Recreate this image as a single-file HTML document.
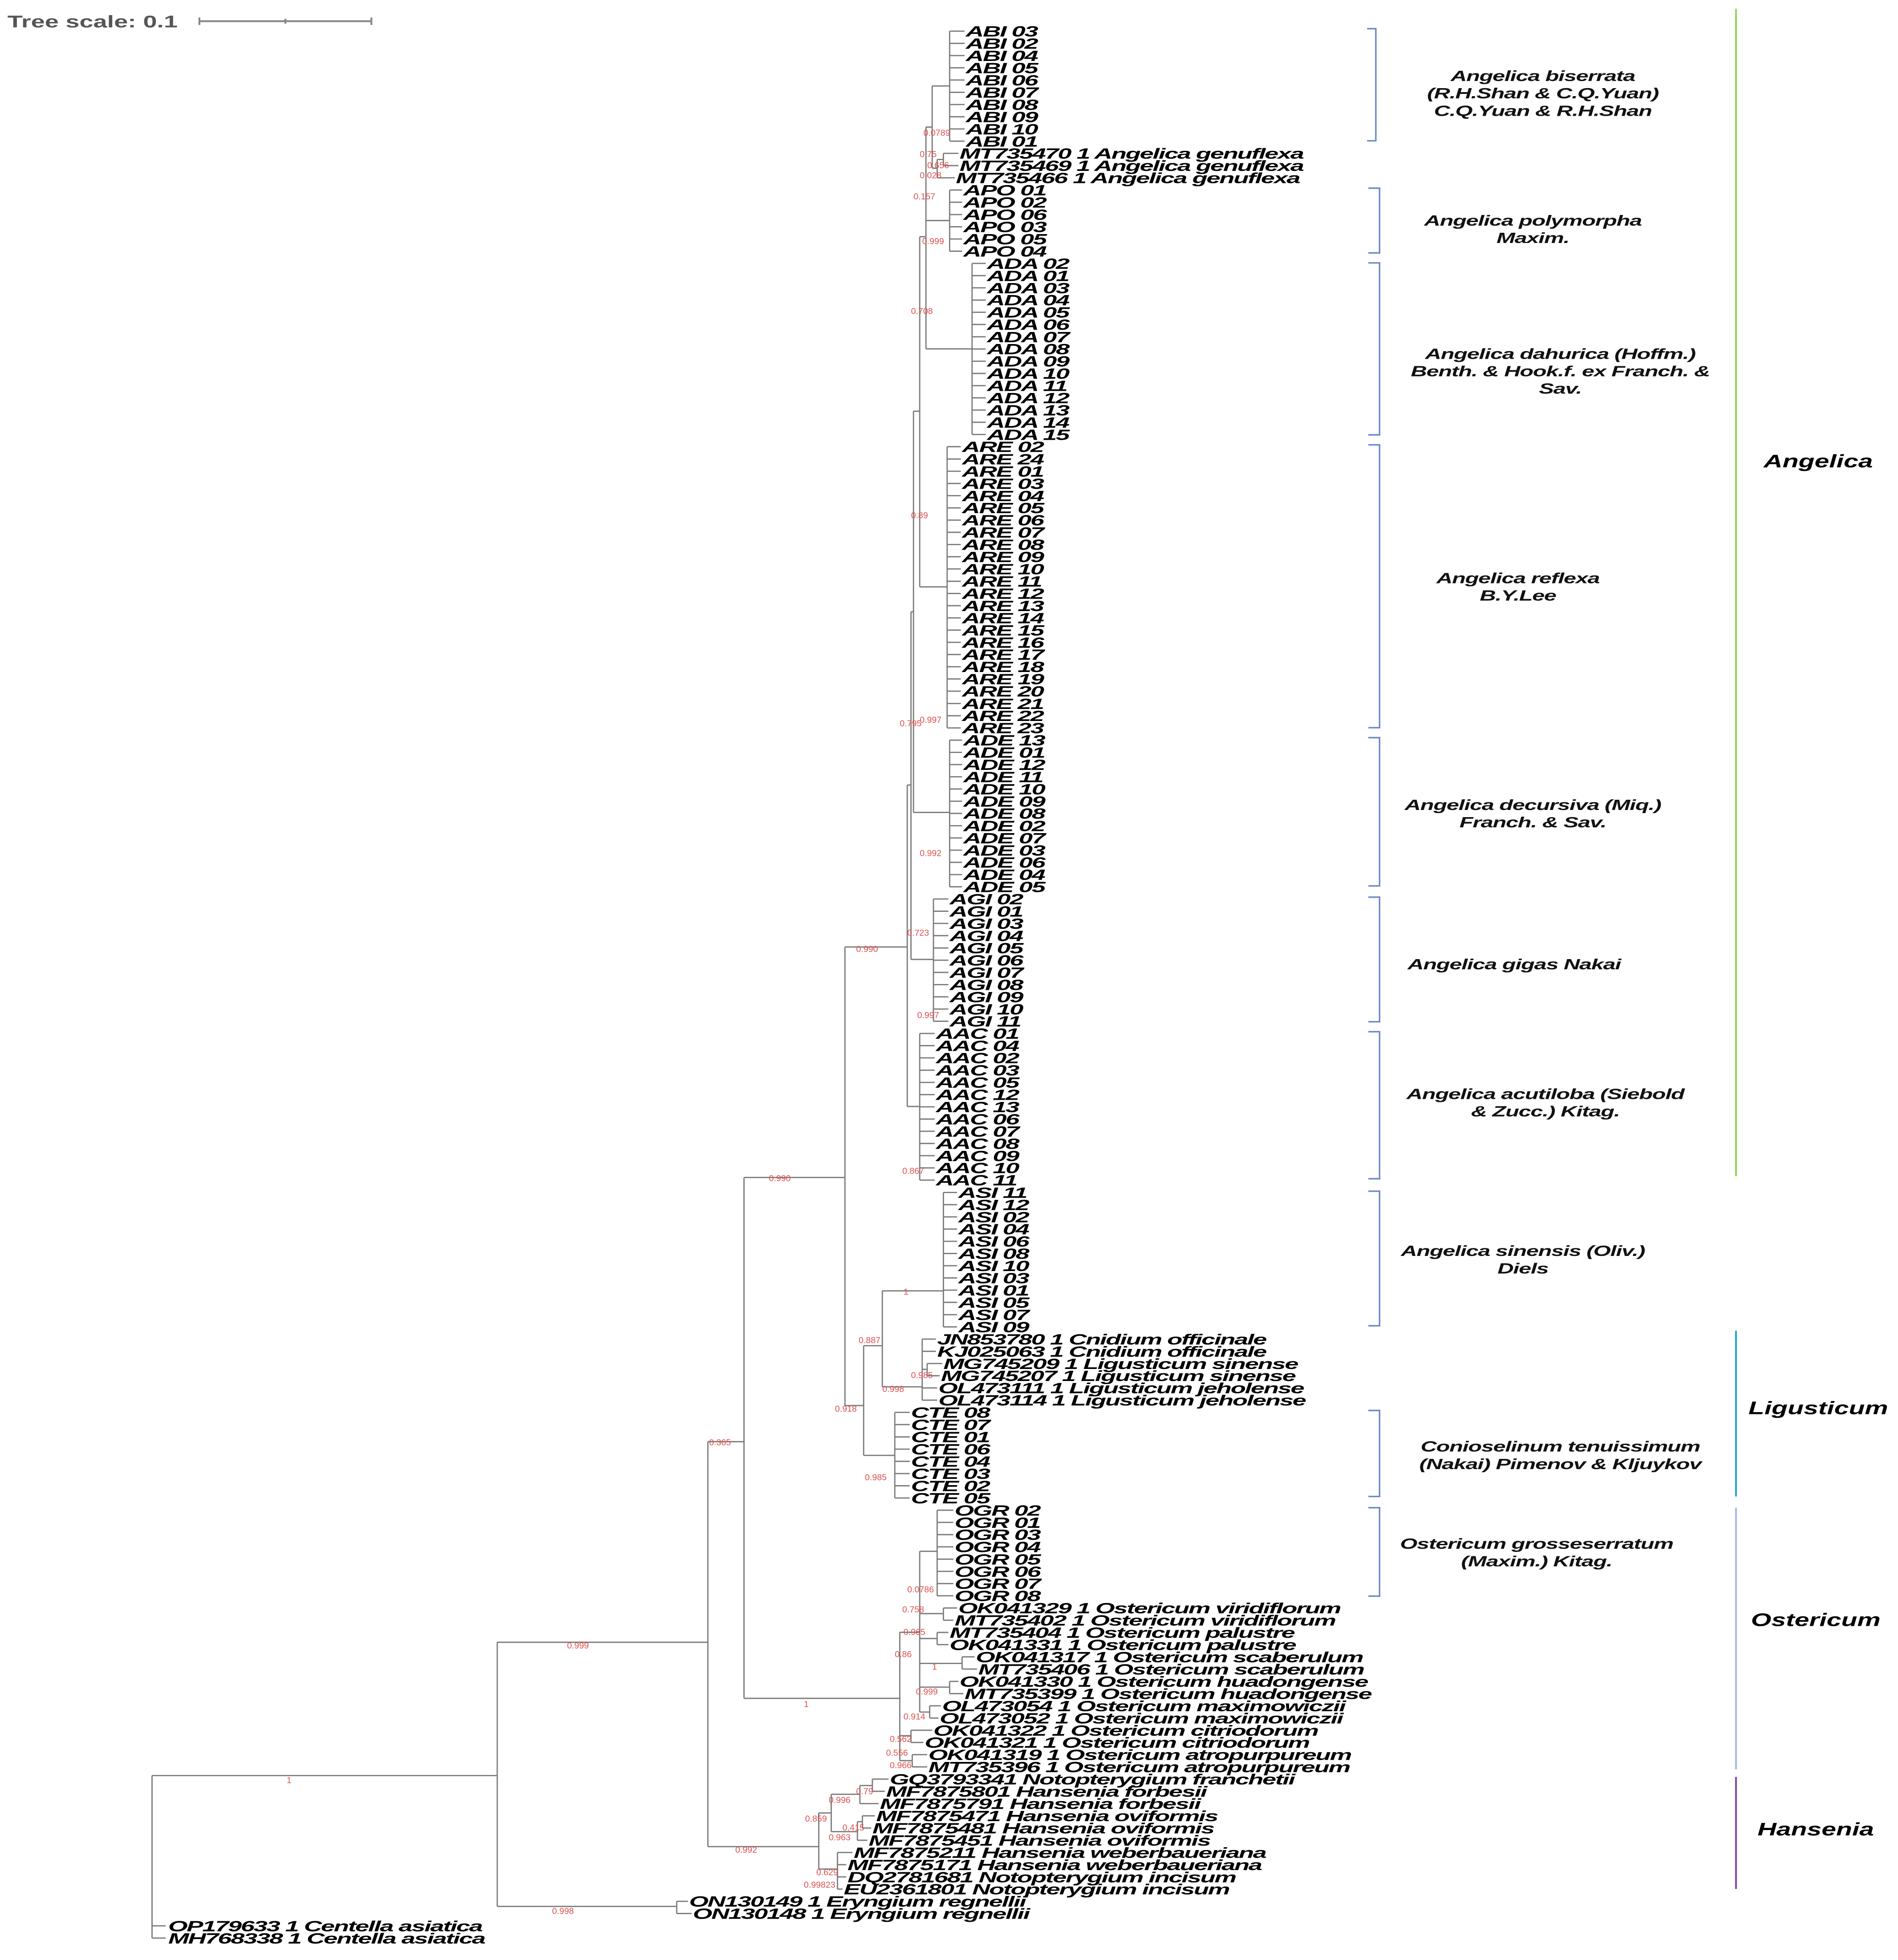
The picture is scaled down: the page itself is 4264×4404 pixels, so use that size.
<!DOCTYPE html>
<html><head><meta charset="utf-8"><style>
html,body{margin:0;padding:0;background:#fff}
svg{display:block}
.l{font-family:"Liberation Sans",sans-serif;font-weight:bold;font-style:italic;font-size:12px;letter-spacing:-0.5px;fill:#000}
.s{font-family:"Liberation Sans",sans-serif;font-weight:bold;font-style:italic;font-size:12px;letter-spacing:-0.3px;fill:#111;text-anchor:middle}
.c{font-family:"Liberation Sans",sans-serif;font-weight:bold;font-style:italic;font-size:14.5px;fill:#000;text-anchor:middle}
.r{font-family:"Liberation Sans",sans-serif;font-size:7px;fill:#e05050}
.t{fill:none;stroke:#7a7a7a;stroke-width:1}
</style></head><body>
<svg width="4264" height="4404" viewBox="0 0 1523 1573" preserveAspectRatio="none" xmlns="http://www.w3.org/2000/svg">
<rect width="1523" height="1573" fill="#fff"/>
<text transform="matrix(1.48 0 0 1 6 22)" style="font-family:'Liberation Sans',sans-serif;font-weight:bold;font-size:13.5px;fill:#555">Tree scale: 0.1</text>
<path d="M160 17H298M160 14V20M298 14V20M229 15V19" stroke="#888" stroke-width="1.5" fill="none"/>

<path class="t" d="
M762 25V113 M762 25H774 M762 34.8H774 M762 44.6H774 M762 54.4H774 M762 64.2H774 M762 74.1H774 M762 83.9H774 M762 93.7H774 M762 103.5H774 M762 113.3H774
M757 123.1V132.9 M757 123.1H769 M757 132.9H769 M752 128V142.7 M752 128H757 M752 142.7H766
M748 69V135 M748 69H762 M748 135H752
M762 152.5V201.6 M762 152.5H772 M762 162.3H772 M762 172.2H772 M762 182H772 M762 191.8H772 M762 201.6H772
M743 102V280 M743 102H748 M743 177H762 M743 280H780
M780 211.4V348.7 M780 211.4H791 M780 221.2H791 M780 231H791 M780 240.8H791 M780 250.6H791 M780 260.4H791 M780 270.3H791 M780 280.1H791 M780 289.9H791 M780 299.7H791 M780 309.5H791 M780 319.3H791 M780 329.1H791 M780 338.9H791 M780 348.7H791
M738 190V471 M738 190H743 M738 471H760
M760 358.5V584.2 M760 358.5H771 M760 368.4H771 M760 378.2H771 M760 388H771 M760 397.8H771 M760 407.6H771 M760 417.4H771 M760 427.2H771 M760 437H771 M760 446.8H771 M760 456.6H771 M760 466.5H771 M760 476.3H771 M760 486.1H771 M760 495.9H771 M760 505.7H771 M760 515.5H771 M760 525.3H771 M760 535.1H771 M760 544.9H771 M760 554.7H771 M760 564.6H771 M760 574.4H771 M760 584.2H771
M733 330V652 M733 330H738 M733 652H762
M762 594V711.7 M762 594H772 M762 603.8H772 M762 613.6H772 M762 623.4H772 M762 633.2H772 M762 643H772 M762 652.8H772 M762 662.7H772 M762 672.5H772 M762 682.3H772 M762 692.1H772 M762 701.9H772 M762 711.7H772
M731 491V770 M731 491H733 M731 770H749
M749 721.5V819.6 M749 721.5H761 M749 731.3H761 M749 741.1H761 M749 750.9H761 M749 760.8H761 M749 770.6H761 M749 780.4H761 M749 790.2H761 M749 800H761 M749 809.8H761 M749 819.6H761
M728 630V888 M728 630H731 M728 888H738
M738 829.4V947.1 M738 829.4H750 M738 839.2H750 M738 849H750 M738 858.9H750 M738 868.7H750 M738 878.5H750 M738 888.3H750 M738 898.1H750 M738 907.9H750 M738 917.7H750 M738 927.5H750 M738 937.3H750 M738 947.1H750
M678 760H728 M678 760V1128
M757 957V1064.9 M757 957H768 M757 966.8H768 M757 976.6H768 M757 986.4H768 M757 996.2H768 M757 1006H768 M757 1015.8H768 M757 1025.6H768 M757 1035.4H768 M757 1045.2H768 M757 1055.1H768 M757 1064.9H768
M740 1074.7V1123.7 M740 1074.7H751 M740 1084.5H751 M744 1094.3H756 M744 1104.1H754 M744 1094.3V1104.1 M740 1099H744 M740 1113.9H752 M740 1123.7H752
M708 1036V1113 M708 1036H757 M708 1113H740
M693 1080V1168 M693 1080H708 M693 1168H718
M718 1133.5V1202.2 M718 1133.5H730 M718 1143.3H730 M718 1153.2H730 M718 1163H730 M718 1172.8H730 M718 1182.6H730 M718 1192.4H730 M718 1202.2H730
M678 1128H693
M597 945H678 M597 945V1363 M597 1363H722
M752 1212V1280.7 M752 1212H765 M752 1221.8H765 M752 1231.6H765 M752 1241.4H765 M752 1251.3H765 M752 1261.1H765 M752 1270.9H765 M752 1280.7H765
M757 1290.5V1300.3 M757 1290.5H768 M757 1300.3H765
M752 1310.1V1319.9 M752 1310.1H761 M752 1319.9H761
M772 1329.7V1339.5 M772 1329.7H782 M772 1339.5H784
M762 1349.4V1359.2 M762 1349.4H769 M762 1359.2H773
M746 1369V1378.8 M746 1369H755 M746 1378.8H753
M738 1245V1374 M738 1245H752 M738 1295H757 M738 1315H752 M738 1335H772 M738 1354H762 M738 1374H746
M731 1388.6V1398.4 M731 1388.6H748 M731 1398.4H741
M732 1408.2V1418 M732 1408.2H744 M732 1418H744
M722 1310V1413 M722 1310H738 M722 1393H731 M722 1413H732
M568 1157H597 M568 1157V1482
M700 1427.8V1437.6 M700 1427.8H713 M700 1437.6H710 M690 1433V1447.5 M690 1433H700 M690 1447.5H705
M692 1457.3V1467.1 M692 1457.3H702 M692 1467.1H699 M688 1462V1476.9 M688 1462H692 M688 1476.9H696
M667 1440V1470 M667 1440H690 M667 1470H688
M672 1486.7V1516.1 M672 1486.7H684 M672 1496.5H679 M672 1506.3H679 M672 1516.1H676
M657 1455V1500 M657 1455H667 M657 1500H672
M568 1482H657
M399 1318H568 M399 1318V1530 M399 1530H543
M543 1525.9V1535.7 M543 1525.9H552 M543 1535.7H555
M122 1425H399 M122 1425V1555.4 M122 1545.6H133 M122 1555.4H133
"/>

<g class="l">
<text transform="matrix(1.67 0 0 1 775 29.3)">ABI 03</text>
<text transform="matrix(1.67 0 0 1 775 39.1)">ABI 02</text>
<text transform="matrix(1.67 0 0 1 775 48.9)">ABI 04</text>
<text transform="matrix(1.67 0 0 1 775 58.7)">ABI 05</text>
<text transform="matrix(1.67 0 0 1 775 68.5)">ABI 06</text>
<text transform="matrix(1.67 0 0 1 775 78.4)">ABI 07</text>
<text transform="matrix(1.67 0 0 1 775 88.2)">ABI 08</text>
<text transform="matrix(1.67 0 0 1 775 98)">ABI 09</text>
<text transform="matrix(1.67 0 0 1 775 107.8)">ABI 10</text>
<text transform="matrix(1.67 0 0 1 775 117.6)">ABI 01</text>
<text transform="matrix(1.67 0 0 1 770 127.4)">MT735470 1 Angelica genuflexa</text>
<text transform="matrix(1.67 0 0 1 770 137.2)">MT735469 1 Angelica genuflexa</text>
<text transform="matrix(1.67 0 0 1 767 147)">MT735466 1 Angelica genuflexa</text>
<text transform="matrix(1.67 0 0 1 773 156.8)">APO 01</text>
<text transform="matrix(1.67 0 0 1 773 166.6)">APO 02</text>
<text transform="matrix(1.67 0 0 1 773 176.5)">APO 06</text>
<text transform="matrix(1.67 0 0 1 773 186.3)">APO 03</text>
<text transform="matrix(1.67 0 0 1 773 196.1)">APO 05</text>
<text transform="matrix(1.67 0 0 1 773 205.9)">APO 04</text>
<text transform="matrix(1.67 0 0 1 792 215.7)">ADA 02</text>
<text transform="matrix(1.67 0 0 1 792 225.5)">ADA 01</text>
<text transform="matrix(1.67 0 0 1 792 235.3)">ADA 03</text>
<text transform="matrix(1.67 0 0 1 792 245.1)">ADA 04</text>
<text transform="matrix(1.67 0 0 1 792 254.9)">ADA 05</text>
<text transform="matrix(1.67 0 0 1 792 264.7)">ADA 06</text>
<text transform="matrix(1.67 0 0 1 792 274.6)">ADA 07</text>
<text transform="matrix(1.67 0 0 1 792 284.4)">ADA 08</text>
<text transform="matrix(1.67 0 0 1 792 294.2)">ADA 09</text>
<text transform="matrix(1.67 0 0 1 792 304)">ADA 10</text>
<text transform="matrix(1.67 0 0 1 792 313.8)">ADA 11</text>
<text transform="matrix(1.67 0 0 1 792 323.6)">ADA 12</text>
<text transform="matrix(1.67 0 0 1 792 333.4)">ADA 13</text>
<text transform="matrix(1.67 0 0 1 792 343.2)">ADA 14</text>
<text transform="matrix(1.67 0 0 1 792 353)">ADA 15</text>
<text transform="matrix(1.67 0 0 1 772 362.8)">ARE 02</text>
<text transform="matrix(1.67 0 0 1 772 372.7)">ARE 24</text>
<text transform="matrix(1.67 0 0 1 772 382.5)">ARE 01</text>
<text transform="matrix(1.67 0 0 1 772 392.3)">ARE 03</text>
<text transform="matrix(1.67 0 0 1 772 402.1)">ARE 04</text>
<text transform="matrix(1.67 0 0 1 772 411.9)">ARE 05</text>
<text transform="matrix(1.67 0 0 1 772 421.7)">ARE 06</text>
<text transform="matrix(1.67 0 0 1 772 431.5)">ARE 07</text>
<text transform="matrix(1.67 0 0 1 772 441.3)">ARE 08</text>
<text transform="matrix(1.67 0 0 1 772 451.1)">ARE 09</text>
<text transform="matrix(1.67 0 0 1 772 460.9)">ARE 10</text>
<text transform="matrix(1.67 0 0 1 772 470.8)">ARE 11</text>
<text transform="matrix(1.67 0 0 1 772 480.6)">ARE 12</text>
<text transform="matrix(1.67 0 0 1 772 490.4)">ARE 13</text>
<text transform="matrix(1.67 0 0 1 772 500.2)">ARE 14</text>
<text transform="matrix(1.67 0 0 1 772 510)">ARE 15</text>
<text transform="matrix(1.67 0 0 1 772 519.8)">ARE 16</text>
<text transform="matrix(1.67 0 0 1 772 529.6)">ARE 17</text>
<text transform="matrix(1.67 0 0 1 772 539.4)">ARE 18</text>
<text transform="matrix(1.67 0 0 1 772 549.2)">ARE 19</text>
<text transform="matrix(1.67 0 0 1 772 559)">ARE 20</text>
<text transform="matrix(1.67 0 0 1 772 568.9)">ARE 21</text>
<text transform="matrix(1.67 0 0 1 772 578.7)">ARE 22</text>
<text transform="matrix(1.67 0 0 1 772 588.5)">ARE 23</text>
<text transform="matrix(1.67 0 0 1 773 598.3)">ADE 13</text>
<text transform="matrix(1.67 0 0 1 773 608.1)">ADE 01</text>
<text transform="matrix(1.67 0 0 1 773 617.9)">ADE 12</text>
<text transform="matrix(1.67 0 0 1 773 627.7)">ADE 11</text>
<text transform="matrix(1.67 0 0 1 773 637.5)">ADE 10</text>
<text transform="matrix(1.67 0 0 1 773 647.3)">ADE 09</text>
<text transform="matrix(1.67 0 0 1 773 657.1)">ADE 08</text>
<text transform="matrix(1.67 0 0 1 773 667)">ADE 02</text>
<text transform="matrix(1.67 0 0 1 773 676.8)">ADE 07</text>
<text transform="matrix(1.67 0 0 1 773 686.6)">ADE 03</text>
<text transform="matrix(1.67 0 0 1 773 696.4)">ADE 06</text>
<text transform="matrix(1.67 0 0 1 773 706.2)">ADE 04</text>
<text transform="matrix(1.67 0 0 1 773 716)">ADE 05</text>
<text transform="matrix(1.67 0 0 1 762 725.8)">AGI 02</text>
<text transform="matrix(1.67 0 0 1 762 735.6)">AGI 01</text>
<text transform="matrix(1.67 0 0 1 762 745.4)">AGI 03</text>
<text transform="matrix(1.67 0 0 1 762 755.2)">AGI 04</text>
<text transform="matrix(1.67 0 0 1 762 765.1)">AGI 05</text>
<text transform="matrix(1.67 0 0 1 762 774.9)">AGI 06</text>
<text transform="matrix(1.67 0 0 1 762 784.7)">AGI 07</text>
<text transform="matrix(1.67 0 0 1 762 794.5)">AGI 08</text>
<text transform="matrix(1.67 0 0 1 762 804.3)">AGI 09</text>
<text transform="matrix(1.67 0 0 1 762 814.1)">AGI 10</text>
<text transform="matrix(1.67 0 0 1 762 823.9)">AGI 11</text>
<text transform="matrix(1.67 0 0 1 751 833.7)">AAC 01</text>
<text transform="matrix(1.67 0 0 1 751 843.5)">AAC 04</text>
<text transform="matrix(1.67 0 0 1 751 853.3)">AAC 02</text>
<text transform="matrix(1.67 0 0 1 751 863.2)">AAC 03</text>
<text transform="matrix(1.67 0 0 1 751 873)">AAC 05</text>
<text transform="matrix(1.67 0 0 1 751 882.8)">AAC 12</text>
<text transform="matrix(1.67 0 0 1 751 892.6)">AAC 13</text>
<text transform="matrix(1.67 0 0 1 751 902.4)">AAC 06</text>
<text transform="matrix(1.67 0 0 1 751 912.2)">AAC 07</text>
<text transform="matrix(1.67 0 0 1 751 922)">AAC 08</text>
<text transform="matrix(1.67 0 0 1 751 931.8)">AAC 09</text>
<text transform="matrix(1.67 0 0 1 751 941.6)">AAC 10</text>
<text transform="matrix(1.67 0 0 1 751 951.4)">AAC 11</text>
<text transform="matrix(1.67 0 0 1 769 961.3)">ASI 11</text>
<text transform="matrix(1.67 0 0 1 769 971.1)">ASI 12</text>
<text transform="matrix(1.67 0 0 1 769 980.9)">ASI 02</text>
<text transform="matrix(1.67 0 0 1 769 990.7)">ASI 04</text>
<text transform="matrix(1.67 0 0 1 769 1000.5)">ASI 06</text>
<text transform="matrix(1.67 0 0 1 769 1010.3)">ASI 08</text>
<text transform="matrix(1.67 0 0 1 769 1020.1)">ASI 10</text>
<text transform="matrix(1.67 0 0 1 769 1029.9)">ASI 03</text>
<text transform="matrix(1.67 0 0 1 769 1039.7)">ASI 01</text>
<text transform="matrix(1.67 0 0 1 769 1049.5)">ASI 05</text>
<text transform="matrix(1.67 0 0 1 769 1059.4)">ASI 07</text>
<text transform="matrix(1.67 0 0 1 769 1069.2)">ASI 09</text>
<text transform="matrix(1.67 0 0 1 752 1079)">JN853780 1 Cnidium officinale</text>
<text transform="matrix(1.67 0 0 1 752 1088.8)">KJ025063 1 Cnidium officinale</text>
<text transform="matrix(1.67 0 0 1 757 1098.6)">MG745209 1 Ligusticum sinense</text>
<text transform="matrix(1.67 0 0 1 755 1108.4)">MG745207 1 Ligusticum sinense</text>
<text transform="matrix(1.67 0 0 1 753 1118.2)">OL473111 1 Ligusticum jeholense</text>
<text transform="matrix(1.67 0 0 1 753 1128)">OL473114 1 Ligusticum jeholense</text>
<text transform="matrix(1.67 0 0 1 731 1137.8)">CTE 08</text>
<text transform="matrix(1.67 0 0 1 731 1147.6)">CTE 07</text>
<text transform="matrix(1.67 0 0 1 731 1157.5)">CTE 01</text>
<text transform="matrix(1.67 0 0 1 731 1167.3)">CTE 06</text>
<text transform="matrix(1.67 0 0 1 731 1177.1)">CTE 04</text>
<text transform="matrix(1.67 0 0 1 731 1186.9)">CTE 03</text>
<text transform="matrix(1.67 0 0 1 731 1196.7)">CTE 02</text>
<text transform="matrix(1.67 0 0 1 731 1206.5)">CTE 05</text>
<text transform="matrix(1.67 0 0 1 766 1216.3)">OGR 02</text>
<text transform="matrix(1.67 0 0 1 766 1226.1)">OGR 01</text>
<text transform="matrix(1.67 0 0 1 766 1235.9)">OGR 03</text>
<text transform="matrix(1.67 0 0 1 766 1245.7)">OGR 04</text>
<text transform="matrix(1.67 0 0 1 766 1255.6)">OGR 05</text>
<text transform="matrix(1.67 0 0 1 766 1265.4)">OGR 06</text>
<text transform="matrix(1.67 0 0 1 766 1275.2)">OGR 07</text>
<text transform="matrix(1.67 0 0 1 766 1285)">OGR 08</text>
<text transform="matrix(1.67 0 0 1 769 1294.8)">OK041329 1 Ostericum viridiflorum</text>
<text transform="matrix(1.67 0 0 1 766 1304.6)">MT735402 1 Ostericum viridiflorum</text>
<text transform="matrix(1.67 0 0 1 762 1314.4)">MT735404 1 Ostericum palustre</text>
<text transform="matrix(1.67 0 0 1 762 1324.2)">OK041331 1 Ostericum palustre</text>
<text transform="matrix(1.67 0 0 1 783 1334)">OK041317 1 Ostericum scaberulum</text>
<text transform="matrix(1.67 0 0 1 785 1343.8)">MT735406 1 Ostericum scaberulum</text>
<text transform="matrix(1.67 0 0 1 770 1353.7)">OK041330 1 Ostericum huadongense</text>
<text transform="matrix(1.67 0 0 1 774 1363.5)">MT735399 1 Ostericum huadongense</text>
<text transform="matrix(1.67 0 0 1 756 1373.3)">OL473054 1 Ostericum maximowiczii</text>
<text transform="matrix(1.67 0 0 1 754 1383.1)">OL473052 1 Ostericum maximowiczii</text>
<text transform="matrix(1.67 0 0 1 749 1392.9)">OK041322 1 Ostericum citriodorum</text>
<text transform="matrix(1.67 0 0 1 742 1402.7)">OK041321 1 Ostericum citriodorum</text>
<text transform="matrix(1.67 0 0 1 745 1412.5)">OK041319 1 Ostericum atropurpureum</text>
<text transform="matrix(1.67 0 0 1 745 1422.3)">MT735396 1 Ostericum atropurpureum</text>
<text transform="matrix(1.67 0 0 1 714 1432.1)">GQ3793341 Notopterygium franchetii</text>
<text transform="matrix(1.67 0 0 1 711 1441.9)">MF7875801 Hansenia forbesii</text>
<text transform="matrix(1.67 0 0 1 706 1451.8)">MF7875791 Hansenia forbesii</text>
<text transform="matrix(1.67 0 0 1 703 1461.6)">MF7875471 Hansenia oviformis</text>
<text transform="matrix(1.67 0 0 1 700 1471.4)">MF7875481 Hansenia oviformis</text>
<text transform="matrix(1.67 0 0 1 697 1481.2)">MF7875451 Hansenia oviformis</text>
<text transform="matrix(1.67 0 0 1 685 1491)">MF7875211 Hansenia weberbaueriana</text>
<text transform="matrix(1.67 0 0 1 680 1500.8)">MF7875171 Hansenia weberbaueriana</text>
<text transform="matrix(1.67 0 0 1 680 1510.6)">DQ2781681 Notopterygium incisum</text>
<text transform="matrix(1.67 0 0 1 677 1520.4)">EU2361801 Notopterygium incisum</text>
<text transform="matrix(1.67 0 0 1 553 1530.2)">ON130149 1 Eryngium regnellii</text>
<text transform="matrix(1.67 0 0 1 556 1540)">ON130148 1 Eryngium regnellii</text>
<text transform="matrix(1.67 0 0 1 135 1549.9)">OP179633 1 Centella asiatica</text>
<text transform="matrix(1.67 0 0 1 135 1559.7)">MH768338 1 Centella asiatica</text>
</g>

<g class="r">
<text x="741" y="109">0.0789</text>
<text x="738" y="126">0.75</text>
<text x="744" y="135">0.656</text>
<text x="738" y="143">0.028</text>
<text x="733" y="160">0.157</text>
<text x="740" y="196">0.999</text>
<text x="731" y="252">0.708</text>
<text x="731" y="416">0.89</text>
<text x="722" y="583">0.795</text>
<text x="738" y="580">0.997</text>
<text x="738" y="687">0.992</text>
<text x="728" y="751">0.723</text>
<text x="736" y="817">0.997</text>
<text x="724" y="942">0.867</text>
<text x="687" y="764">0.990</text>
<text x="617" y="948">0.990</text>
<text x="725" y="1039">1</text>
<text x="689" y="1078">0.887</text>
<text x="731" y="1106">0.985</text>
<text x="708" y="1117">0.998</text>
<text x="670" y="1133">0.918</text>
<text x="694" y="1188">0.985</text>
<text x="569" y="1160">0.365</text>
<text x="728" y="1278">0.0786</text>
<text x="724" y="1294">0.758</text>
<text x="725" y="1312">0.965</text>
<text x="718" y="1330">0.86</text>
<text x="748" y="1340">1</text>
<text x="735" y="1360">0.999</text>
<text x="725" y="1380">0.914</text>
<text x="714" y="1398">0.562</text>
<text x="711" y="1409">0.556</text>
<text x="714" y="1419">0.966</text>
<text x="645" y="1370">1</text>
<text x="455" y="1323">0.999</text>
<text x="687" y="1440">0.79</text>
<text x="665" y="1447">0.996</text>
<text x="646" y="1462">0.859</text>
<text x="676" y="1469">0.415</text>
<text x="665" y="1477">0.963</text>
<text x="590" y="1487">0.992</text>
<text x="655" y="1505">0.629</text>
<text x="645" y="1515">0.99823</text>
<text x="443" y="1536">0.998</text>
<text x="230" y="1431">1</text>
</g>

<g fill="none" stroke="#6b87c8" stroke-width="1.2">
<path d="M1097 23H1104V113H1097"/>
<path d="M1098 151H1107V203H1098"/>
<path d="M1098 211H1107V349H1098"/>
<path d="M1098 357H1107V584H1098"/>
<path d="M1098 592H1107V711H1098"/>
<path d="M1098 720H1107V820H1098"/>
<path d="M1098 828H1107V946H1098"/>
<path d="M1098 956H1107V1064H1098"/>
<path d="M1098 1132H1107V1201H1098"/>
<path d="M1098 1210H1107V1281H1098"/>
</g>

<g class="s">
<text transform="matrix(1.5 0 0 1 1238 65)">Angelica biserrata</text>
<text transform="matrix(1.5 0 0 1 1238 79)">(R.H.Shan &amp; C.Q.Yuan)</text>
<text transform="matrix(1.5 0 0 1 1238 93)">C.Q.Yuan &amp; R.H.Shan</text>
<text transform="matrix(1.5 0 0 1 1230 181)">Angelica polymorpha</text>
<text transform="matrix(1.5 0 0 1 1230 195)">Maxim.</text>
<text transform="matrix(1.5 0 0 1 1252 288)">Angelica dahurica (Hoffm.)</text>
<text transform="matrix(1.5 0 0 1 1252 302)">Benth. &amp; Hook.f. ex Franch. &amp;</text>
<text transform="matrix(1.5 0 0 1 1252 316)">Sav.</text>
<text transform="matrix(1.5 0 0 1 1218 468)">Angelica reflexa</text>
<text transform="matrix(1.5 0 0 1 1218 482)">B.Y.Lee</text>
<text transform="matrix(1.5 0 0 1 1230 650)">Angelica decursiva (Miq.)</text>
<text transform="matrix(1.5 0 0 1 1230 664)">Franch. &amp; Sav.</text>
<text transform="matrix(1.5 0 0 1 1215 778)">Angelica gigas Nakai</text>
<text transform="matrix(1.5 0 0 1 1240 882)">Angelica acutiloba (Siebold</text>
<text transform="matrix(1.5 0 0 1 1240 896)">&amp; Zucc.) Kitag.</text>
<text transform="matrix(1.5 0 0 1 1222 1008)">Angelica sinensis (Oliv.)</text>
<text transform="matrix(1.5 0 0 1 1222 1022)">Diels</text>
<text transform="matrix(1.5 0 0 1 1252 1165)">Conioselinum tenuissimum</text>
<text transform="matrix(1.5 0 0 1 1252 1179)">(Nakai) Pimenov &amp; Kljuykov</text>
<text transform="matrix(1.5 0 0 1 1233 1243)">Ostericum grosseserratum</text>
<text transform="matrix(1.5 0 0 1 1233 1257)">(Maxim.) Kitag.</text>
</g>

<line x1="1393" y1="7" x2="1393" y2="944" stroke="#95d35a" stroke-width="1.5"/>
<line x1="1393" y1="1068" x2="1393" y2="1201" stroke="#25a7cf" stroke-width="1.5"/>
<line x1="1393" y1="1210" x2="1393" y2="1420" stroke="#a9b9e2" stroke-width="1.5"/>
<line x1="1393" y1="1426" x2="1393" y2="1516" stroke="#7a4fa3" stroke-width="1.5"/>
<g class="c">
<text transform="matrix(1.45 0 0 1 1459 375)">Angelica</text>
<text transform="matrix(1.45 0 0 1 1459 1135)">Ligusticum</text>
<text transform="matrix(1.45 0 0 1 1457 1305)">Ostericum</text>
<text transform="matrix(1.45 0 0 1 1457 1473)">Hansenia</text>
</g>
</svg>
</body></html>
